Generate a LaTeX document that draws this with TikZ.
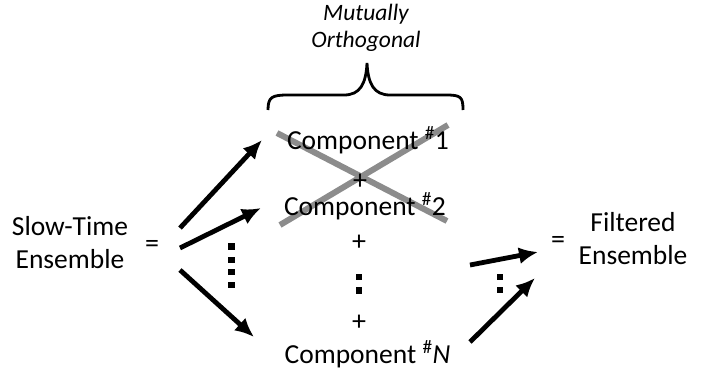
\documentclass[tikz,border=0pt]{standalone}
\usepackage{fontspec}
\setmainfont{Carlito}
\usepackage{tikz}
\usetikzlibrary{arrows.meta,calc}

\begin{document}
\begin{tikzpicture}[x=1pt,y=-1pt,
	txt/.style={font=\fontsize{27.5}{33}\selectfont, align=center, inner sep=0},
	small/.style={font=\fontsize{23.5}{27}\selectfont\itshape, align=center, inner sep=0},
	op/.style={font=\fontsize{28}{30}\selectfont, inner sep=0},
	fat/.style={line width=4.8pt, -{Latex[length=19pt,width=17pt]}},
	cross/.style={line width=6pt, color=black!45}]
\useasboundingbox (0,0) rectangle (712,373);
% the crossing out goes under the texts
\draw[cross] (277,133) -- (447,221);
\draw[cross] (448,125) -- (280,225);
\node[small] (mo) at (366,28) {Mutually\\Orthogonal};
\draw[line width=2.8pt] (268,110) .. controls (268,97) and (272,95) .. (288,95) -- (344,95) .. controls (360,95) and (366,84) .. (367,63) .. controls (368,84) and (374,95) .. (390,95) -- (446,95) .. controls (461,95) and (463,97) .. (463,110);
\node[txt, anchor=base] (c1) at (368,149) {Component \textsuperscript{\#}1};
\node[op] (p1) at (360,182) {+};
\node[txt, anchor=base] (c2) at (365,215) {Component \textsuperscript{\#}2};
\node[op] (p2) at (359,243) {+};
\node[op] (p3) at (359,323) {+};
\node[txt, anchor=base] (cn) at (367.5,363) {Component \textsuperscript{\#}\textit{N}};
\node[txt] (ste) at (70,243) {Slow-Time\\Ensemble};
\node[op] (eq1) at (152,246) {=};
\node[txt] (fe) at (633,239) {Filtered\\Ensemble};
\node[op] (eq2) at (558,242) {=};
% arrows out of the ensemble
\coordinate (s1) at (180,228);
\coordinate (s2) at (180,248);
\coordinate (s3) at (180,270);
\coordinate (e1) at (262,140);
\coordinate (e2) at (261,208);
\coordinate (e3) at (254,337);
\draw[fat] (s1) -- (e1);
\draw[fat] (s2) -- (e2);
\draw[fat] (s3) -- (e3);
% arrows into the filtered ensemble
\coordinate (r1) at (470,265);
\coordinate (r2) at (470,342);
\coordinate (t1) at (538,252);
\coordinate (t2) at (535,278);
\draw[fat] (r1) -- (t1);
\draw[fat] (r2) -- (t2);
% dots
\foreach \y in {246.5,260,272,285}
	\fill (231.5,\y) +(-3.5,-3.3) rectangle +(3.5,3.3);
\foreach \y in {277,290.5}
	\fill (359,\y) +(-3.3,-3.3) rectangle +(3.3,3.3);
\foreach \y in {276.5,290}
	\fill (499.5,\y) +(-3,-3) rectangle +(3,3);
\end{tikzpicture}
\end{document}
